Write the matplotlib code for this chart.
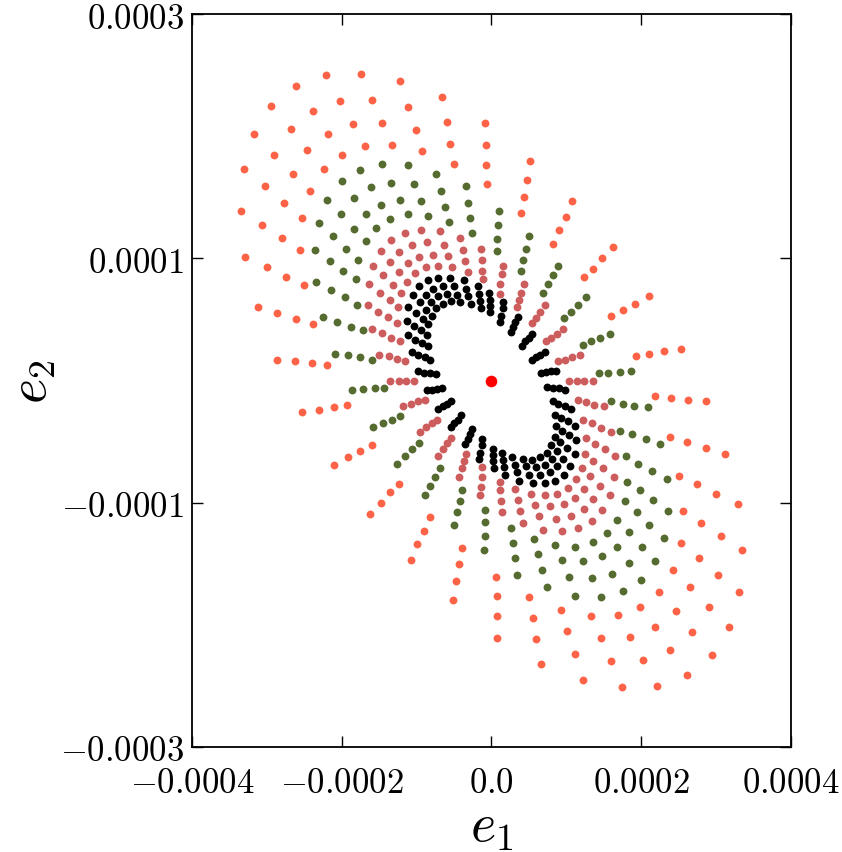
import numpy as np
import matplotlib.pyplot as plt
from matplotlib.ticker import FuncFormatter

plt.rcParams['mathtext.fontset'] = 'cm'

# ellipticity components, units of 1e-6 (36 rays of 4 points per colour)
orange_x = [-8, -7, -7, -6, -66, -60, -55, -50, -122, -111, -101, -93, -174, -159, -146, -133,
            -221, -202, -185, -169, -261, -239, -218, -199, -294, -268, -246, -224, -317, -290, -265, -242,
            -331, -303, -277, -253, -335, -306, -280, -256, -329, -300, -275, -251, -312, -286, -261, -239,
            -287, -262, -240, -219, -253, -231, -210, -193, -210, -192, -175, -160, -162, -148, -135, -123,
            -108, -99, -90, -82, -52, -47, -43, -39,
            8, 7, 7, 6, 66, 60, 55, 50, 122, 111, 101, 93, 174, 159, 146, 133,
            221, 202, 185, 169, 261, 239, 218, 199, 294, 268, 246, 224, 317, 290, 265, 242,
            331, 303, 277, 253, 335, 306, 280, 256, 329, 300, 275, 251, 312, 286, 261, 239,
            287, 262, 240, 219, 253, 231, 210, 193, 210, 192, 175, 160, 162, 148, 135, 123,
            108, 99, 90, 82, 52, 47, 43, 39]
orange_y = [211, 193, 176, 161, 232, 212, 194, 177, 245, 224, 205, 188, 251, 230, 211, 193,
            250, 229, 210, 192, 241, 221, 202, 185, 225, 206, 189, 173, 202, 185, 169, 155,
            173, 159, 145, 133, 139, 127, 117, 107, 101, 93, 85, 78, 60, 55, 50, 46,
            17, 16, 14, 13, -26, -24, -22, -20, -69, -63, -58, -53, -109, -100, -91, -85,
            -147, -134, -123, -112, -180, -164, -150, -137,
            -211, -193, -176, -161, -232, -212, -194, -177, -245, -224, -205, -188, -251, -230, -211, -193,
            -250, -229, -210, -192, -241, -221, -202, -185, -225, -206, -189, -173, -202, -185, -169, -155,
            -173, -159, -145, -133, -139, -127, -117, -107, -101, -93, -85, -78, -60, -55, -50, -46,
            -17, -16, -14, -13, 26, 24, 22, 20, 69, 63, 58, 53, 109, 100, 91, 85,
            147, 134, 123, 112, 180, 164, 150, 137]

green_x = [-34, -32, -29, -26, -74, -68, -62, -57, -112, -103, -94, -85, -146, -134, -122, -112,
           -176, -161, -147, -135, -200, -184, -168, -154, -219, -201, -184, -168, -231, -211, -194, -178,
           -236, -216, -198, -181, -234, -214, -196, -179, -225, -206, -188, -172, -209, -191, -175, -160,
           -186, -171, -156, -143, -158, -145, -133, -122, -126, -115, -106, -97, -89, -82, -75, -69,
           -50, -46, -42, -39, -10, -9, -8, -8,
           34, 32, 29, 26, 74, 68, 62, 57, 112, 103, 94, 85, 146, 134, 122, 112,
           176, 161, 147, 135, 200, 184, 168, 154, 219, 201, 184, 168, 231, 211, 194, 178,
           236, 216, 198, 181, 234, 214, 196, 179, 225, 206, 188, 172, 209, 191, 175, 160,
           186, 171, 156, 143, 158, 145, 133, 122, 126, 115, 106, 97, 89, 82, 75, 69,
           50, 46, 42, 39, 10, 9, 8, 8]
green_y = [159, 145, 133, 121, 169, 155, 142, 130, 176, 161, 147, 135, 177, 162, 148, 136,
           172, 158, 144, 132, 163, 149, 136, 125, 148, 136, 124, 114, 129, 118, 108, 99,
           107, 98, 90, 83, 81, 74, 68, 62, 52, 48, 44, 41, 22, 21, 19, 17,
           -8, -7, -6, -6, -38, -35, -32, -29, -68, -62, -56, -51, -94, -86, -79, -72,
           -118, -108, -99, -90, -139, -127, -116, -106,
           -159, -145, -133, -121, -169, -155, -142, -130, -176, -161, -147, -135, -177, -162, -148, -136,
           -172, -158, -144, -132, -163, -149, -136, -125, -148, -136, -124, -114, -129, -118, -108, -99,
           -107, -98, -90, -83, -81, -74, -68, -62, -52, -48, -44, -41, -22, -21, -19, -17,
           8, 7, 6, 6, 38, 35, 32, 29, 68, 62, 56, 51, 94, 86, 79, 72,
           118, 108, 99, 90, 139, 127, 116, 106]

pink_x = [-14, -13, -12, -11, -42, -38, -35, -32, -69, -63, -58, -53, -94, -86, -78, -72,
          -116, -106, -97, -88, -134, -123, -112, -102, -148, -136, -124, -113, -158, -145, -132, -121,
          -163, -149, -136, -125, -165, -151, -138, -126, -160, -146, -134, -122, -150, -137, -126, -115,
          -135, -124, -114, -104, -118, -107, -98, -89, -95, -87, -80, -73, -71, -65, -59, -54,
          -44, -40, -37, -34, -15, -14, -12, -12,
          14, 13, 12, 11, 42, 38, 35, 32, 69, 63, 58, 53, 94, 86, 78, 72,
          116, 106, 97, 88, 134, 123, 112, 102, 148, 136, 124, 113, 158, 145, 132, 121,
          163, 149, 136, 125, 165, 151, 138, 126, 160, 146, 134, 122, 150, 137, 126, 115,
          135, 124, 114, 104, 118, 107, 98, 89, 95, 87, 80, 73, 71, 65, 59, 54,
          44, 40, 37, 34, 15, 14, 12, 12]
pink_y = [108, 99, 90, 83, 117, 107, 98, 89, 122, 111, 102, 93, 123, 113, 103, 94,
          121, 111, 101, 93, 115, 105, 96, 88, 106, 97, 89, 81, 94, 86, 78, 72,
          79, 72, 66, 60, 62, 56, 52, 47, 42, 39, 35, 32, 21, 20, 18, 16,
          0, 0, 0, 0, -21, -19, -17, -16, -42, -38, -35, -32, -62, -56, -51, -47,
          -79, -72, -66, -60, -94, -87, -79, -71,
          -108, -99, -90, -83, -117, -107, -98, -89, -122, -111, -102, -93, -123, -113, -103, -94,
          -121, -111, -101, -93, -115, -105, -96, -88, -106, -97, -89, -81, -94, -86, -78, -72,
          -79, -72, -66, -60, -62, -56, -52, -47, -42, -39, -35, -32, -21, -20, -18, -16,
          0, 0, 0, 0, 21, 19, 17, 16, 42, 38, 35, 32, 62, 56, 51, 47,
          79, 72, 66, 60, 94, 87, 79, 71]

black_x = [-3, -2, -2, -2, -18, -17, -15, -14, -37, -34, -31, -28, -55, -50, -46, -42,
           -71, -65, -59, -54, -85, -78, -71, -65, -97, -88, -81, -74, -105, -96, -88, -80,
           -111, -101, -92, -85, -113, -103, -94, -86, -111, -102, -93, -85, -106, -98, -89, -82,
           -98, -90, -82, -74, -86, -80, -73, -66, -71, -65, -60, -54, -54, -50, -45, -41,
           -35, -32, -29, -26, -16, -15, -13, -12,
           3, 2, 2, 2, 18, 17, 15, 14, 37, 34, 31, 28, 55, 50, 46, 42,
           71, 65, 59, 54, 85, 78, 71, 65, 97, 88, 81, 74, 105, 96, 88, 80,
           111, 101, 92, 85, 113, 103, 94, 86, 111, 102, 93, 85, 106, 98, 89, 82,
           98, 90, 82, 74, 86, 80, 73, 66, 71, 65, 60, 54, 54, 50, 45, 41,
           35, 32, 29, 26, 16, 15, 13, 12]
black_y = [72, 66, 61, 56, 77, 71, 65, 59, 82, 75, 69, 63, 84, 77, 70, 64,
           84, 77, 71, 65, 82, 75, 69, 63, 77, 70, 64, 59, 70, 64, 58, 53,
           60, 55, 50, 46, 49, 45, 41, 37, 37, 33, 31, 28, 23, 21, 19, 17,
           8, 6, 6, 5, -8, -8, -7, -6, -23, -21, -19, -17, -38, -35, -32, -28,
           -52, -48, -44, -40, -64, -59, -53, -48,
           -72, -66, -61, -56, -77, -71, -65, -59, -82, -75, -69, -63, -84, -77, -70, -64,
           -84, -77, -71, -65, -82, -75, -69, -63, -77, -70, -64, -59, -70, -64, -58, -53,
           -60, -55, -50, -46, -49, -45, -41, -37, -37, -33, -31, -28, -23, -21, -19, -17,
           -8, -6, -6, -5, 8, 8, 7, 6, 23, 21, 19, 17, 38, 35, 32, 28,
           52, 48, 44, 40, 64, 59, 53, 48]

scale = 1e-6

fig = plt.figure(figsize=(8.42, 8.53), dpi=100)
ax = fig.add_axes([0.228, 0.1231, 0.7114, 0.8593])

ax.scatter(np.array(orange_x) * scale, np.array(orange_y) * scale, s=32, color='tomato', linewidths=0)
ax.scatter(np.array(green_x) * scale, np.array(green_y) * scale, s=32, color='darkolivegreen', linewidths=0)
ax.scatter(np.array(pink_x) * scale, np.array(pink_y) * scale, s=32, color='indianred', linewidths=0)
ax.scatter(np.array(black_x) * scale, np.array(black_y) * scale, s=32, color='black', linewidths=0)
ax.scatter([0], [0], s=70, color='red', linewidths=0)

ax.set_xlim(-0.0004, 0.0004)
ax.set_ylim(-0.0003, 0.0003)
ax.set_xticks([-0.0004, -0.0002, 0.0, 0.0002, 0.0004])
ax.set_yticks([-0.0003, -0.0001, 0.0001, 0.0003])

def fmt(v, pos):
    if abs(v) < 1e-12:
        return r'$0.0$'
    return r'$%.4f$' % v

ax.xaxis.set_major_formatter(FuncFormatter(fmt))
ax.yaxis.set_major_formatter(FuncFormatter(fmt))
ax.tick_params(direction='in', length=8, width=1, top=True, right=True, labelsize=25)
ax.tick_params(axis='x', pad=13)
ax.tick_params(axis='y', pad=6)
for sp in ax.spines.values():
    sp.set_linewidth(1.3)

ax.set_xlabel(r'$e_1$', fontsize=39, labelpad=1)
ax.set_ylabel(r'$e_2$', fontsize=39, labelpad=1)

fig.savefig('out.png', dpi=100)
